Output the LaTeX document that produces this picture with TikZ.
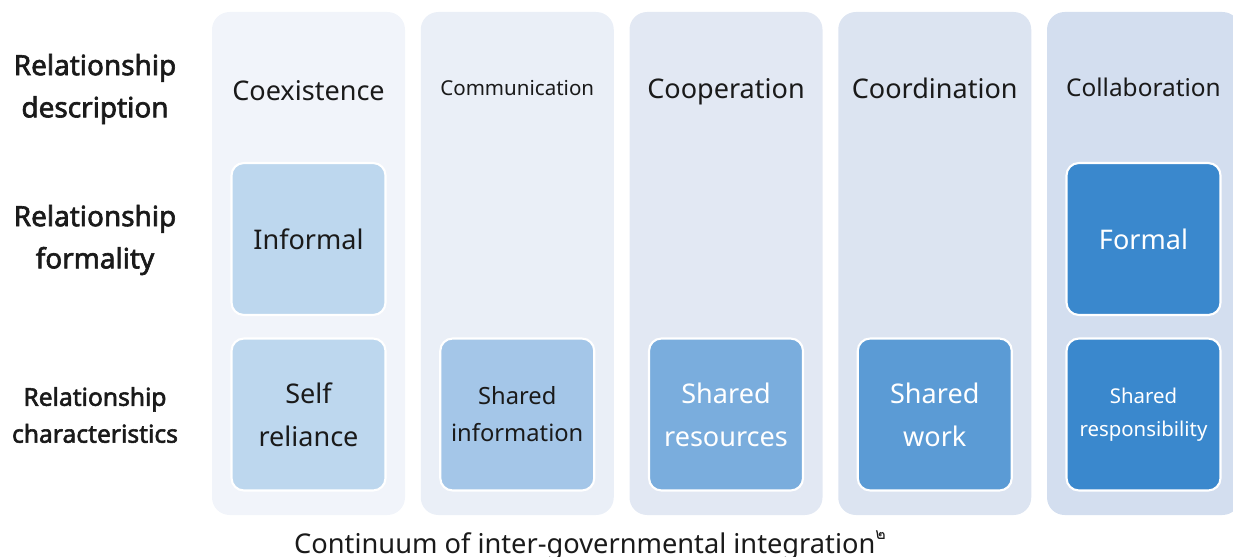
\documentclass[tikz,border=0pt]{standalone}
\usepackage{fontspec}
\setmainfont{Noto Sans}
\newfontfamily\labelfont[FakeBold=2.2]{Noto Sans}
\newfontfamily\thaifont[Script=Thai]{Loma}

\definecolor{pan1}{HTML}{F1F4FA}
\definecolor{pan2}{HTML}{EAEFF7}
\definecolor{pan3}{HTML}{E2E8F3}
\definecolor{pan4}{HTML}{DCE4F1}
\definecolor{pan5}{HTML}{D3DEEF}
\definecolor{box1}{HTML}{BDD7EE}
\definecolor{box2}{HTML}{A4C6E8}
\definecolor{box3}{HTML}{7AADDD}
\definecolor{box4}{HTML}{5B9BD5}
\definecolor{box5}{HTML}{3A88CD}
\definecolor{ink}{HTML}{1A1A1A}

\tikzset{
  cell/.style={draw=white, line width=1.2pt, rounded corners=7pt, align=center,
    minimum width=3.08cm, minimum height=3.04cm, inner sep=0pt, text=ink},
  rowlabel/.style={align=center, font=\labelfont\fontsize{15.9}{24}\selectfont, text=ink},
  head/.style={anchor=base, text=ink},
  big/.style={font=\fontsize{15.4}{24.4}\selectfont},
  small/.style={font=\fontsize{11.7}{18.5}\selectfont},
}

\begin{document}
\begin{tikzpicture}[x=0.02cm, y=-0.02cm]
  \useasboundingbox (0,0) rectangle (1233,557);
  \clip (0,0) rectangle (1233,557);
  % columns
  \foreach \i in {1,...,5} \fill[pan\i, rounded corners=10pt] (3.25+208.75*\i,12) rectangle +(193,503);
  % row labels
  \node[rowlabel] (rdesc) at (95,89) {Relationship\\description};
  \node[rowlabel] (rform) at (95,240) {Relationship\\formality};
  \node[rowlabel, font=\labelfont\fontsize{14}{21}\selectfont] (rchar) at (95,415) {Relationship\\characteristics};
  % headings
  \node[head, big] (head1) at (308.5,101) {Coexistence};
  \node[head, small] (head2) at (517.25,96) {Communication};
  \node[head, big] (head3) at (726,99) {Cooperation};
  \node[head, big] (head4) at (934.75,99) {Coordination};
  \node[head, font=\fontsize{13.9}{20}\selectfont] (head5) at (1143.5,97) {Collaboration};
  % formality
  \node[cell, fill=box1, big] (form1) at (308.5,239) {Informal};
  \node[cell, fill=box5, big, text=white] (form5) at (1143.5,239) {Formal};
  % characteristics
  \node[cell, fill=box1, big] (char1) at (308.5,414.5) {Self\\reliance};
  \node[cell, fill=box2, font=\fontsize{13.5}{21}\selectfont] (char2) at (517.25,414.5) {Shared\\information};
  \node[cell, fill=box3, big, text=white] (char3) at (726,414.5) {Shared\\resources};
  \node[cell, fill=box4, big, text=white] (char4) at (934.75,414.5) {Shared\\work};
  \node[cell, fill=box5, font=\fontsize{11.6}{18.7}\selectfont, text=white] (char5) at (1143.5,414.5) {Shared\\responsibility};
  % caption
  \node[anchor=base, font=\fontsize{15.5}{18}\selectfont, text=ink] (caption) at (590,553)
    {Continuum of inter-governmental integration\raisebox{0.9ex}{\fontsize{9}{9}\selectfont\thaifont ๒}};
\end{tikzpicture}
\end{document}
